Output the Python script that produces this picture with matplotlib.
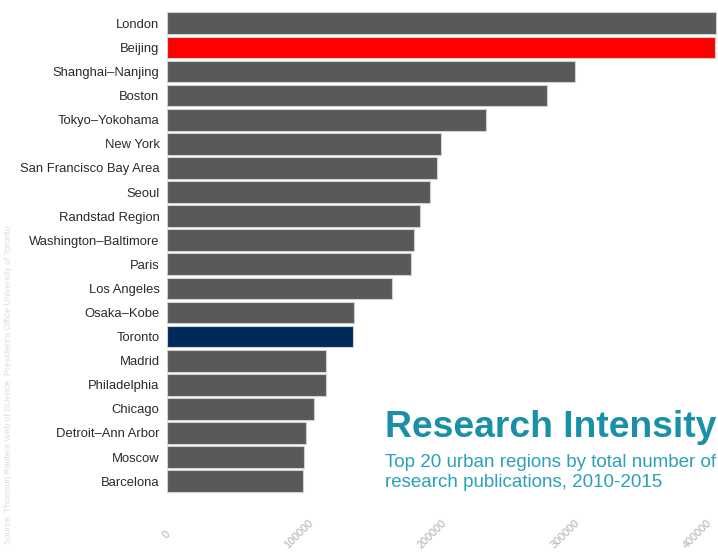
import matplotlib.pyplot as plt

regions = ["London", "Beijing", "Shanghai\u2013Nanjing", "Boston", "Tokyo\u2013Yokohama",
           "New York", "San Francisco Bay Area", "Seoul", "Randstad Region",
           "Washington\u2013Baltimore", "Paris", "Los Angeles", "Osaka\u2013Kobe", "Toronto",
           "Madrid", "Philadelphia", "Chicago", "Detroit\u2013Ann Arbor", "Moscow", "Barcelona"]
publications = [413900, 413200, 307700, 286900, 240700, 206800, 204000, 198500, 191000,
                186700, 184200, 169900, 141200, 140500, 120200, 120100, 111300, 105100,
                103400, 102800]
highlight = {"Beijing": "#ff0000", "Toronto": "#002a5c"}
xticks = [0, 100000, 200000, 300000, 400000]

plt.rcParams['font.family'] = ['Liberation Sans', 'DejaVu Sans']

fig = plt.figure(figsize=(7.18, 5.55), dpi=100)
ax = fig.add_axes([166.5 / 718, 0.107, 551.5 / 718, 0.877])

colors = [highlight.get(r, "#595959") for r in regions]
ypos = list(range(len(regions)))
ax.barh(ypos, publications, height=0.9, color=colors, edgecolor="#d0d0d0", linewidth=0.8)

ax.set_ylim(len(regions) - 0.4, -0.6)
ax.set_xlim(0, 415400)
ax.set_yticks(ypos)
ax.set_yticklabels(regions, fontsize=9.4, color="#2a2a2a")
ax.set_xticks(xticks)
ax.set_xticklabels([str(v) for v in xticks], rotation=45, ha="center", va="center",
                   fontsize=7.8, color="#b0b0b0")
ax.tick_params(length=0)
ax.tick_params(axis="y", pad=5)
ax.tick_params(axis="x", pad=28)
for s in ax.spines.values():
    s.set_visible(False)

fig.text(0.536, 0.213, "Research Intensity", fontsize=26.8, fontweight="bold",
         color="#1a8fa8", ha="left", va="baseline")
fig.text(0.536, 0.122, "Top 20 urban regions by total number of\nresearch publications, 2010-2015",
         fontsize=13.5, color="#2aa0ba", ha="left", va="baseline", linespacing=1.22)
fig.text(0.006, 0.02, "Source: Thomson Reuters Web of Science, President's Office University of Toronto",
         rotation=90, fontsize=6.2, color="#dddddd", ha="left", va="bottom")

fig.savefig("out.png", dpi=100)
